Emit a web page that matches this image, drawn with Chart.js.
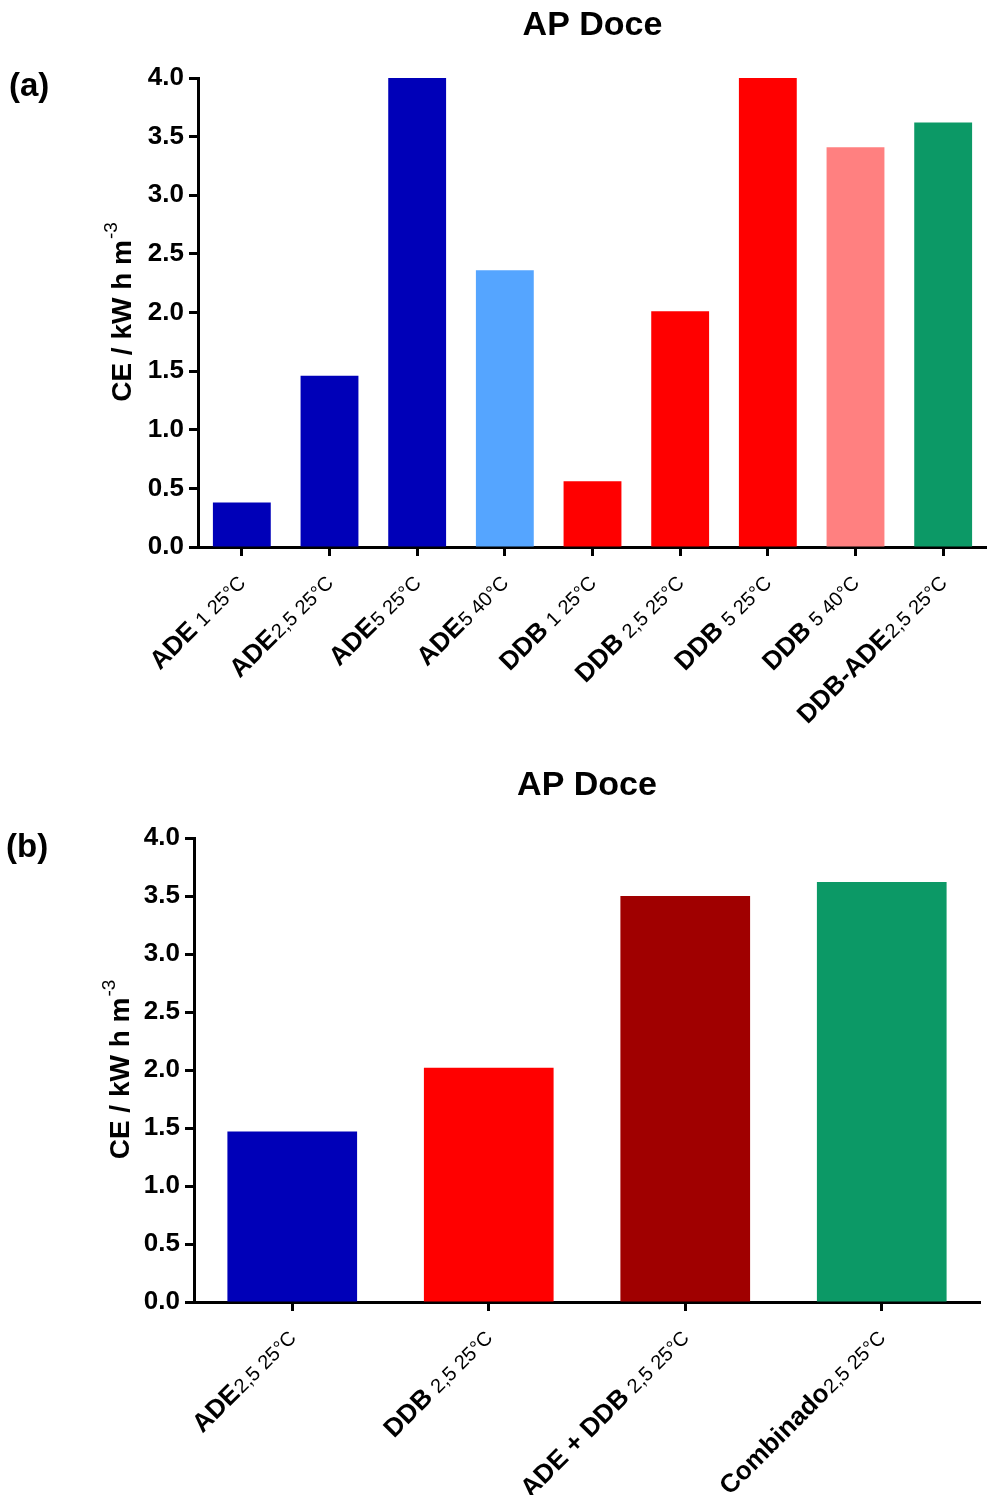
<!DOCTYPE html>
<html>
<head>
<meta charset="utf-8">
<script src="https://cdn.jsdelivr.net/npm/chart.js@4.4.1/dist/chart.umd.min.js"></script>
<style>
  body { margin: 0; background: #fff; width: 987px; height: 1495px; position: relative; overflow: hidden; }
  .panel { position: absolute; left: 0; width: 987px; }
  #wrapA { top: 0; height: 740px; }
  #wrapB { top: 740px; height: 755px; }
</style>
</head>
<body>
<div class="panel" id="wrapA"><canvas id="chartA" width="987" height="740"></canvas></div>
<div class="panel" id="wrapB"><canvas id="chartB" width="987" height="755"></canvas></div>
<script>
// panel (a): single treatments
const namesA = ['ADE', 'ADE', 'ADE', 'ADE', 'DDB', 'DDB', 'DDB', 'DDB', 'DDB-ADE'];
const condA = [' 1 25°C', '2,5 25°C', '5 25°C', '5 40°C', ' 1 25°C', ' 2,5 25°C', ' 5 25°C', ' 5 40°C', '2,5 25°C'];
const valuesA = [0.38, 1.46, 4.0, 2.36, 0.56, 2.01, 4.0, 3.41, 3.62];
const colorsA = ['#0000b8', '#0000b8', '#0000b8', '#55a5ff', '#ff0000', '#ff0000', '#ff0000', '#ff8080', '#0c9966'];

// panel (b): 2,5 / 25°C comparison
const namesB = ['ADE', 'DDB', 'ADE + DDB', 'Combinado'];
const condB = ['2,5 25°C', ' 2,5 25°C', ' 2,5 25°C', '2,5 25°C'];
const valuesB = [1.47, 2.02, 3.50, 3.62];
const colorsB = ['#0000b8', '#ff0000', '#a00000', '#0c9966'];

const yMin = 0, yMax = 4, yStep = 0.5;

const FONT = '"Liberation Sans", Arial, sans-serif';

// rotated two-part category labels, title, axis title and panel letter
const decor = {
  id: 'decor',
  afterDraw(chart, args, opts) {
    const ctx = chart.ctx;
    const area = chart.chartArea;
    const xs = chart.scales.x;

    ctx.save();
    ctx.fillStyle = '#000';

    // category labels
    opts.names.forEach((name, i) => {
      const x = xs.getPixelForValue(i);
      ctx.save();
      ctx.translate(x + 5, area.bottom + 37);
      ctx.rotate(-Math.PI / 4);
      ctx.textAlign = 'right';
      ctx.textBaseline = 'alphabetic';
      ctx.font = '20px ' + FONT;
      const sub = opts.cond[i];
      ctx.fillText(sub, 0, 0);
      const w = ctx.measureText(sub).width;
      ctx.font = 'bold 26px ' + FONT;
      ctx.fillText(name, -w - 1, 0);
      ctx.restore();
    });

    // chart title
    ctx.font = 'bold 34px ' + FONT;
    ctx.textAlign = 'center';
    ctx.textBaseline = 'alphabetic';
    ctx.fillText('AP Doce', (area.left + area.right) / 2, opts.titleY);

    // panel letter
    ctx.font = 'bold 33px ' + FONT;
    ctx.textAlign = 'left';
    ctx.fillText(opts.panel, opts.panelX, opts.panelY);

    // y axis title with superscript
    ctx.save();
    ctx.translate(opts.yTitleX, (area.top + area.bottom) / 2);
    ctx.rotate(-Math.PI / 2);
    ctx.font = 'bold 28px ' + FONT;
    const main = 'CE / kW h m';
    const wm = ctx.measureText(main).width;
    ctx.font = '19px ' + FONT;
    const sup = '-3';
    const ws = ctx.measureText(sup).width;
    const start = -(wm + ws) / 2;
    ctx.textAlign = 'left';
    ctx.font = 'bold 28px ' + FONT;
    ctx.fillText(main, start, 0);
    ctx.font = '19px ' + FONT;
    ctx.fillText(sup, start + wm + 1, -14);
    ctx.restore();

    ctx.restore();
  }
};

function makeChart(id, names, cond, values, colors, layout) {
  return new Chart(document.getElementById(id), {
    type: 'bar',
    data: {
      labels: names.map((n, i) => n + cond[i]),
      datasets: [{
        data: values,
        backgroundColor: colors,
        borderWidth: 0,
        barPercentage: 0.66,
        categoryPercentage: 1
      }]
    },
    options: {
      responsive: false,
      animation: false,
      layout: { padding: { top: layout.top, left: 0, right: layout.right, bottom: 0 } },
      plugins: {
        legend: { display: false },
        tooltip: { enabled: false },
        decor: {
          names: names,
          cond: cond,
          panel: layout.panel,
          panelX: layout.panelX,
          panelY: layout.panelY,
          titleY: layout.titleY,
          yTitleX: layout.yTitleX
        }
      },
      scales: {
        x: {
          afterFit: s => { s.height = layout.xHeight; },
          ticks: { display: false },
          grid: {
            display: true, drawOnChartArea: false, offset: false,
            tickLength: 9, tickColor: '#000', tickWidth: 3
          },
          border: { display: true, color: '#000', width: 3 }
        },
        y: {
          min: yMin,
          max: yMax,
          afterFit: s => { s.width = layout.left; },
          ticks: {
            stepSize: yStep,
            padding: 5,
            color: '#000',
            font: { family: FONT, size: 26, weight: 'bold' },
            callback: v => v.toFixed(1)
          },
          grid: {
            display: true, drawOnChartArea: false,
            tickLength: 9, tickColor: '#000', tickWidth: 3
          },
          border: { display: true, color: '#000', width: 3 }
        }
      }
    },
    plugins: [decor]
  });
}

makeChart('chartA', namesA, condA, valuesA, colorsA, {
  top: 78, right: 0, left: 198, xHeight: 193,
  panel: '(a)', panelX: 9, panelY: 96, titleY: 35, yTitleX: 131
});

makeChart('chartB', namesB, condB, valuesB, colorsB, {
  top: 98, right: 7, left: 194, xHeight: 193,
  panel: '(b)', panelX: 6, panelY: 117, titleY: 55, yTitleX: 129
});
</script>
</body>
</html>
